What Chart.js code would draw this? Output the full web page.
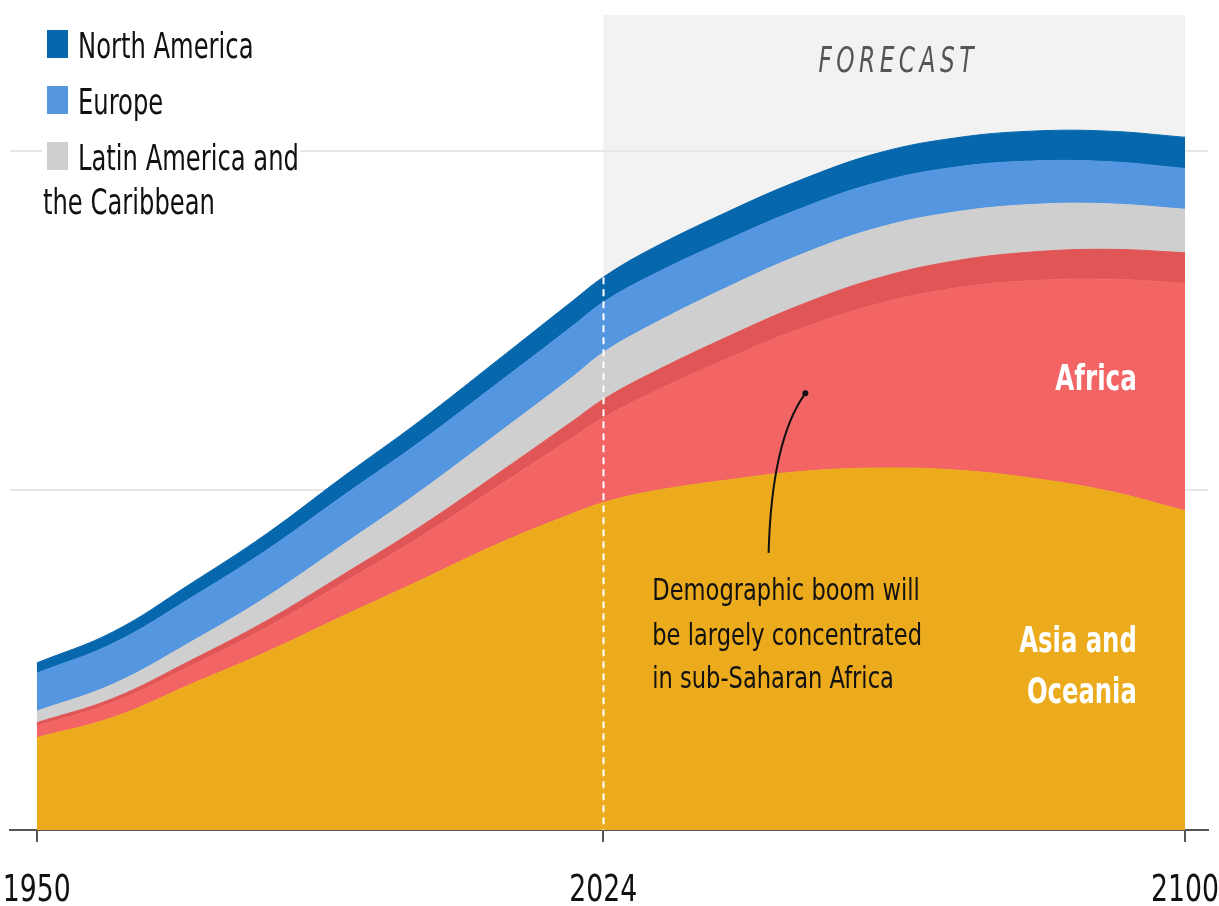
<!DOCTYPE html>
<html>
<head>
<meta charset="utf-8">
<script src="https://cdn.jsdelivr.net/npm/chart.js@4"></script>
<style>
  html, body { margin: 0; padding: 0; background: #fff; }
  #wrap { width: 1219px; height: 906px; }
</style>
</head>
<body>
<div id="wrap"><canvas id="chart" width="1219" height="906"></canvas></div>
<script>
  // population, billions
  const years = [1950, 1960, 1970, 1980, 1990, 2000, 2010, 2020, 2024, 2030, 2040, 2050, 2060, 2070, 2080, 2090, 2100];
  const asiaOceania      = [1.36, 1.66, 2.14, 2.62, 3.15, 3.67, 4.20, 4.66, 4.82, 4.98, 5.15, 5.28, 5.33, 5.30, 5.18, 4.99, 4.70];
  const subSaharanAfrica = [0.17, 0.22, 0.27, 0.36, 0.49, 0.64, 0.84, 1.12, 1.25, 1.44, 1.78, 2.11, 2.42, 2.68, 2.91, 3.12, 3.35];
  const northAfrica      = [0.05, 0.06, 0.08, 0.10, 0.12, 0.15, 0.19, 0.24, 0.27, 0.29, 0.32, 0.35, 0.38, 0.40, 0.42, 0.44, 0.45];
  const latinAmerica     = [0.17, 0.21, 0.27, 0.35, 0.44, 0.52, 0.59, 0.65, 0.69, 0.71, 0.73, 0.74, 0.74, 0.72, 0.70, 0.67, 0.64];
  const europe           = [0.56, 0.60, 0.65, 0.69, 0.72, 0.73, 0.74, 0.75, 0.74, 0.73, 0.70, 0.68, 0.67, 0.66, 0.64, 0.62, 0.60];
  const northAmerica     = [0.15, 0.17, 0.21, 0.24, 0.28, 0.31, 0.34, 0.37, 0.37, 0.39, 0.41, 0.42, 0.43, 0.43, 0.44, 0.45, 0.46];

  const xTicks = [1950, 2024, 2100];
  const gridValues = [5, 10];
  const forecastFrom = 2024;
  const legendNames = ["North America", "Europe", "Latin America and"];

  const FONT = '"DejaVu Sans Condensed", "Liberation Sans Narrow", sans-serif';

  const series = [
    { label: "Asia and Oceania", data: asiaOceania, color: "#ecab1c" },
    { label: "Sub-Saharan Africa", data: subSaharanAfrica, color: "#f26564" },
    { label: "North Africa", data: northAfrica, color: "#e05555" },
    { label: "Latin America and the Caribbean", data: latinAmerica, color: "#cfcfcf" },
    { label: "Europe", data: europe, color: "#5596e0" },
    { label: "North America", data: northAmerica, color: "#0667ad" }
  ];

  // narrow text: the original face is much more condensed than anything installed
  function squeezed(ctx, text, x, y, sx) {
    ctx.save();
    ctx.translate(x, y);
    ctx.scale(sx, 1);
    ctx.fillText(text, 0, 0);
    ctx.restore();
  }

  const decor = {
    id: "decor",
    beforeDraw(chart) {
      const { ctx, chartArea: a, scales: { x } } = chart;
      const x0 = x.getPixelForValue(forecastFrom), x1 = x.getPixelForValue(years[years.length - 1]);
      ctx.save();
      ctx.fillStyle = "#f2f2f2";
      ctx.fillRect(x0, a.top, x1 - x0, a.bottom - a.top);
      ctx.fillStyle = "#555";
      ctx.font = "italic 35px " + FONT;
      ctx.letterSpacing = "6px";
      ctx.textAlign = "center";
      squeezed(ctx, "FORECAST", (x0 + x1) / 2 + 4, 72, 0.74);
      ctx.restore();
    },
    afterDatasetsDraw(chart) {
      const { ctx, chartArea: a, scales: { x, y } } = chart;
      const i = years.indexOf(forecastFrom);
      const total = series.reduce((s, d) => s + d.data[i], 0);
      const px = Math.round(x.getPixelForValue(forecastFrom)) + 0.5;
      ctx.save();
      ctx.strokeStyle = "#fff";
      ctx.lineWidth = 2;
      ctx.setLineDash([7, 5]);
      ctx.beginPath();
      ctx.moveTo(px, y.getPixelForValue(total));
      ctx.lineTo(px, a.bottom);
      ctx.stroke();
      ctx.setLineDash([]);

      // region labels
      ctx.fillStyle = "#fff";
      ctx.font = "bold 36px " + FONT;
      ctx.textAlign = "right";
      const lx = x.getPixelForValue(2093.7);
      squeezed(ctx, "Africa", lx, y.getPixelForValue(6.48), 0.76);
      squeezed(ctx, "Asia and", lx, y.getPixelForValue(2.62), 0.75);
      squeezed(ctx, "Oceania", lx, y.getPixelForValue(1.87), 0.75);

      // annotation
      ctx.fillStyle = "#111";
      ctx.font = "31px " + FONT;
      ctx.textAlign = "left";
      const ax = x.getPixelForValue(2030.4);
      squeezed(ctx, "Demographic boom will", ax, y.getPixelForValue(3.39), 0.81);
      squeezed(ctx, "be largely concentrated", ax, y.getPixelForValue(2.72), 0.81);
      squeezed(ctx, "in sub-Saharan Africa", ax, y.getPixelForValue(2.09), 0.81);

      const sx = x.getPixelForValue(2045.6), sy = y.getPixelForValue(4.08);
      const ex = x.getPixelForValue(2050.4), ey = y.getPixelForValue(6.43);
      const cx = x.getPixelForValue(2046.0), cy = y.getPixelForValue(5.75);
      ctx.strokeStyle = "#111";
      ctx.lineWidth = 2;
      ctx.beginPath();
      ctx.moveTo(sx, sy);
      ctx.quadraticCurveTo(cx, cy, ex, ey);
      ctx.stroke();
      ctx.beginPath();
      ctx.arc(ex, ey, 3, 0, Math.PI * 2);
      ctx.fillStyle = "#111";
      ctx.fill();
      ctx.restore();
    },
    afterDraw(chart) {
      const { ctx, scales: { x } } = chart;
      ctx.save();
      // year labels under the tick marks
      ctx.fillStyle = "#111";
      ctx.font = "38px " + FONT;
      ctx.textAlign = "center";
      x.ticks.forEach(t => squeezed(ctx, String(t.value), x.getPixelForValue(t.value), 901, 0.78));

      // legend
      const legendColors = ["#0667ad", "#5596e0", "#cfcfcf"];
      ctx.fillStyle = "#fff";
      ctx.fillRect(42, 146, 258, 8);
      ctx.font = "35px " + FONT;
      ctx.textAlign = "left";
      legendNames.forEach((n, k) => {
        const top = 30 + k * 56;
        ctx.fillStyle = legendColors[k];
        ctx.fillRect(47, top, 21, 28);
        ctx.fillStyle = "#111";
        squeezed(ctx, n, 78, top + 28, 0.77);
      });
      squeezed(ctx, "the Caribbean", 43, 214, 0.77);
      ctx.restore();
    }
  };

  new Chart(document.getElementById("chart"), {
    type: "line",
    data: {
      datasets: series.map((s, i) => ({
        label: s.label,
        data: years.map((yr, j) => ({ x: yr, y: s.data[j] })),
        backgroundColor: s.color,
        borderColor: s.color,
        borderWidth: 1,
        pointRadius: 0,
        fill: i === 0 ? "origin" : "-1",
        tension: 0.4
      }))
    },
    options: {
      responsive: false,
      animation: false,
      layout: { padding: { left: 10, right: 11, top: 15, bottom: 0 } },
      plugins: { legend: { display: false }, tooltip: { enabled: false } },
      scales: {
        x: {
          type: "linear",
          min: 1946.5,
          max: 2103,
          z: 1,
          afterBuildTicks: s => { s.ticks = xTicks.map(v => ({ value: v })); },
          afterFit: s => { s.height = 76; s.paddingLeft = 0; s.paddingRight = 0; },
          grid: { drawOnChartArea: false, drawTicks: true, tickLength: 12, color: "#555", lineWidth: 2 },
          border: { display: true, color: "#555", width: 2 },
          ticks: { display: false }
        },
        y: {
          stacked: true,
          min: 0,
          max: 12,
          afterFit: s => { s.width = 0; },
          ticks: { display: false, stepSize: 5 },
          grid: {
            color: c => (gridValues.includes(c.tick.value) ? "#e6e6e6" : "rgba(0,0,0,0)"),
            lineWidth: 2,
            drawTicks: false
          },
          border: { display: false }
        }
      }
    },
    plugins: [decor]
  });
</script>
</body>
</html>
